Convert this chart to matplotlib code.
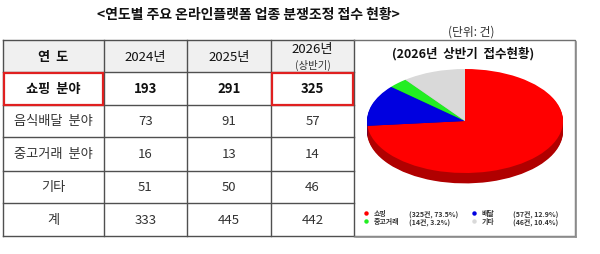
import matplotlib
matplotlib.use("Agg")
import matplotlib.pyplot as plt
from matplotlib.patches import Rectangle

plt.rcParams['font.family'] = ['Noto Sans CJK KR', 'DejaVu Sans']

title = '<연도별 주요 온라인플랫폼 업종 분쟁조정 접수 현황>'
unit = '(단위: 건)'
header0 = '연  도'
years = ['2024년', '2025년', '2026년']
half_note = '(상반기)'
categories = ['쇼핑  분야', '음식배달  분야', '중고거래  분야', '기타']
total_label = '계'
v2024 = [193, 73, 16, 51]
v2025 = [291, 91, 13, 50]
v2026 = [325, 57, 14, 46]
pie_title = '(2026년  상반기  접수현황)'
pie_labels = ['쇼핑', '배달', '중고거래', '기타']
pie_colors = ['#FF0000', '#0000E0', '#22EE22', '#D9D9D9']
side_colors = ['#B00000', '#000090', '#119911', '#A0A0A0']

W, H = 600, 255
fig = plt.figure(figsize=(6.0, 2.55), dpi=100)
ax = fig.add_axes([0, 0, 1, 1])
ax.set_xlim(0, W)
ax.set_ylim(H, 0)
ax.axis('off')

ax.text(248, 15, title, ha='center', va='center', fontsize=10, fontweight='bold', color='#111')
ax.text(495, 32, unit, ha='right', va='center', fontsize=8.5, color='#333')

cols = [3, 104, 187, 271, 354]
rows = [41, 73, 106, 138, 172, 204, 237]

# header background
ax.add_patch(Rectangle((cols[0], rows[0]), cols[-1] - cols[0], rows[1] - rows[0],
                       facecolor='#F0F0F0', edgecolor='none', zorder=0))
lc = '#505050'
for x in cols:
    ax.plot([x, x], [rows[0], rows[-1]], color=lc, lw=1.0, zorder=2)
for y in rows:
    ax.plot([cols[0], cols[-1]], [y, y], color=lc, lw=1.0, zorder=2)

# pie box
px0, px1, py0, py1 = 354, 575, 41, 237
ax.plot([px0, px1, px1, px0], [py0, py0, py1, py1], color='#707070', lw=1.0, zorder=2)
ax.plot([px1 + 1, px1 + 1], [py0 + 2, py1 + 1], color='#909090', lw=1.2, zorder=2)
ax.plot([px0 + 2, px1 + 1], [py1 + 1, py1 + 1], color='#909090', lw=1.2, zorder=2)

def cx(i):
    return (cols[i] + cols[i + 1]) / 2

def cy(j):
    return (rows[j] + rows[j + 1]) / 2

fs = 9.5
ax.text(cx(0), cy(0), header0, ha='center', va='center', fontsize=fs, fontweight='bold', color='#111')
for i, yl in enumerate(years):
    if i < 2:
        ax.text(cx(i + 1), cy(0), yl, ha='center', va='center', fontsize=fs, color='#111')
    else:
        ax.text(cx(i + 1), cy(0) - 7, yl, ha='center', va='center', fontsize=fs, color='#111')
        ax.text(cx(i + 1), cy(0) + 8, half_note, ha='center', va='center', fontsize=7.5, color='#333')

series = [v2024, v2025, v2026]
for j, cat in enumerate(categories):
    bold = (j == 0)
    ax.text(cx(0), cy(j + 1), cat, ha='center', va='center', fontsize=fs,
            fontweight='bold' if bold else 'normal', color='#111' if bold else '#333')
    for i, s in enumerate(series):
        ax.text(cx(i + 1), cy(j + 1), str(s[j]), ha='center', va='center', fontsize=fs,
                fontweight='bold' if bold else 'normal', color='#111' if bold else '#333')
ax.text(cx(0), cy(5), total_label, ha='center', va='center', fontsize=fs, color='#333')
for i, s in enumerate(series):
    ax.text(cx(i + 1), cy(5), str(sum(s)), ha='center', va='center', fontsize=fs, color='#333')

# red highlight boxes
for c in [0, 3]:
    ax.add_patch(Rectangle((cols[c] + 0.5, rows[1] + 0.5), cols[c + 1] - cols[c] - 2, rows[2] - rows[1] - 1,
                           facecolor='none', edgecolor='#E02020', lw=1.6, zorder=3))

# pie
ax.text(463, 54, pie_title, ha='center', va='center', fontsize=9, fontweight='bold', color='#111')
pcx, pcy, rx, ry = 465, 122, 98, 52
depth = 0.2
ylo = -1.0 - depth - 0.05
pax = fig.add_axes([(pcx - rx) / W, (H - (pcy + ry * (-ylo))) / H, 2 * rx / W, ry * (1 - ylo) / H])
n = 12
for k in range(n):
    d = depth * (1 - k / n)
    pax.pie(v2026, colors=side_colors, startangle=90, counterclock=False, center=(0, -d),
            wedgeprops=dict(linewidth=0))
pax.pie(v2026, colors=pie_colors, startangle=90, counterclock=False, center=(0, 0),
        wedgeprops=dict(linewidth=0))
pax.set_aspect('auto')
pax.set_xlim(-1.0, 1.0)
pax.set_ylim(ylo, 1.0)
pax.axis('off')

# legend
total26 = sum(v2026)
lpos = [(366, 214), (474, 214), (366, 222), (474, 222)]
for k, (lab, val) in enumerate(zip(pie_labels, v2026)):
    x, y = lpos[k]
    ax.plot([x], [y], marker='o', ms=3.2, color=pie_colors[k], mec='none', zorder=4)
    ax.text(x + 8, y, lab, ha='left', va='center', fontsize=5, fontweight='bold', color='#333')
    ax.text(x + (43 if k % 2 == 0 else 39), y, f'({val}건, {val / total26 * 100:.1f}%)',
            ha='left', va='center', fontsize=5, fontweight='bold', color='#333')

fig.savefig('out.png', dpi=100)
